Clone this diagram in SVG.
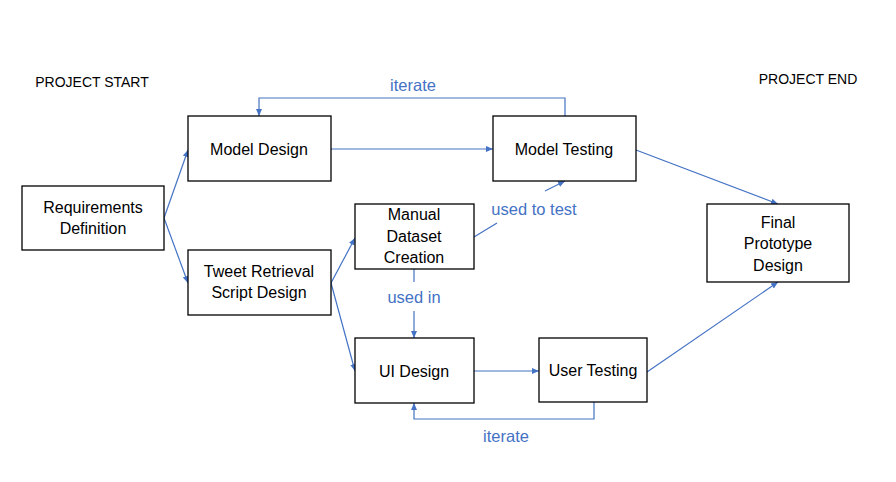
<svg xmlns="http://www.w3.org/2000/svg" width="896" height="482" viewBox="0 0 896 482">
<defs>
<marker id="ah" markerWidth="8" markerHeight="8" refX="7" refY="4" orient="auto" markerUnits="userSpaceOnUse">
<path d="M0,1 L7,4 L0,7 Z" fill="#4472C4"/>
</marker>
<style>
.box{fill:#fff;stroke:#000;stroke-width:1.3}
.t{font-family:"Liberation Sans",Arial,sans-serif;font-size:16px;fill:#000;text-anchor:middle}
.p{font-family:"Liberation Sans",Arial,sans-serif;font-size:14px;fill:#000;text-anchor:middle}
.lbl{font-family:"Liberation Sans",Arial,sans-serif;font-size:16.5px;fill:#4472C4;text-anchor:middle}
.c{fill:none;stroke:#4472C4;stroke-width:1.2}
.ca{fill:none;stroke:#4472C4;stroke-width:1.2;marker-end:url(#ah)}
</style>
</defs>
<rect width="896" height="482" fill="#fff"/>
<text class="p" x="92" y="87">PROJECT START</text>
<text class="p" x="808" y="84">PROJECT END</text>
<g id="connectors">
<path class="ca" d="M164,218 L188,150"/>
<path class="ca" d="M164,218 L188,283"/>
<path class="ca" d="M331,149 L493,149"/>
<path class="ca" d="M565,116 L565,98 L259,98 L259,116"/>
<path class="ca" d="M636,150 L778,204"/>
<path class="ca" d="M331,283 L355,238"/>
<path class="ca" d="M331,283 L355,371"/>
<path class="c" d="M474,237 L497,223"/>
<path class="ca" d="M545,191 L565,181"/>
<path class="c" d="M414,269 L414,282"/>
<path class="ca" d="M414,311 L414,338"/>
<path class="ca" d="M474,371 L539,371"/>
<path class="ca" d="M594,402 L594,419 L414,419 L414,403"/>
<path class="ca" d="M647,372 L778,282"/>
<text class="lbl" x="413" y="91">iterate</text>
<text class="lbl" x="534" y="215">used to test</text>
<text class="lbl" x="414" y="303">used in</text>
<text class="lbl" x="506" y="442">iterate</text>
</g>
<g id="req"><rect class="box" x="22" y="186" width="142" height="64"/><text class="t" x="93" y="213">Requirements</text><text class="t" x="93" y="234">Definition</text></g>
<g id="modeldesign"><rect class="box" x="188" y="116" width="143" height="65"/><text class="t" x="259" y="155">Model Design</text></g>
<g id="modeltesting"><rect class="box" x="493" y="116" width="143" height="65"/><text class="t" x="564" y="155">Model Testing</text></g>
<g id="tweet"><rect class="box" x="188" y="250" width="143" height="65"/><text class="t" x="259" y="277">Tweet Retrieval</text><text class="t" x="259" y="298">Script Design</text></g>
<g id="manual"><rect class="box" x="355" y="204" width="119" height="65"/><text class="t" x="414" y="220">Manual</text><text class="t" x="414" y="242">Dataset</text><text class="t" x="414" y="263">Creation</text></g>
<g id="ui"><rect class="box" x="355" y="338" width="119" height="65"/><text class="t" x="414" y="377">UI Design</text></g>
<g id="usertesting"><rect class="box" x="539" y="338" width="108" height="64"/><text class="t" x="593" y="376">User Testing</text></g>
<g id="final"><rect class="box" x="707" y="204" width="142" height="78"/><text class="t" x="778" y="228">Final</text><text class="t" x="778" y="249">Prototype</text><text class="t" x="778" y="271">Design</text></g>
</svg>
